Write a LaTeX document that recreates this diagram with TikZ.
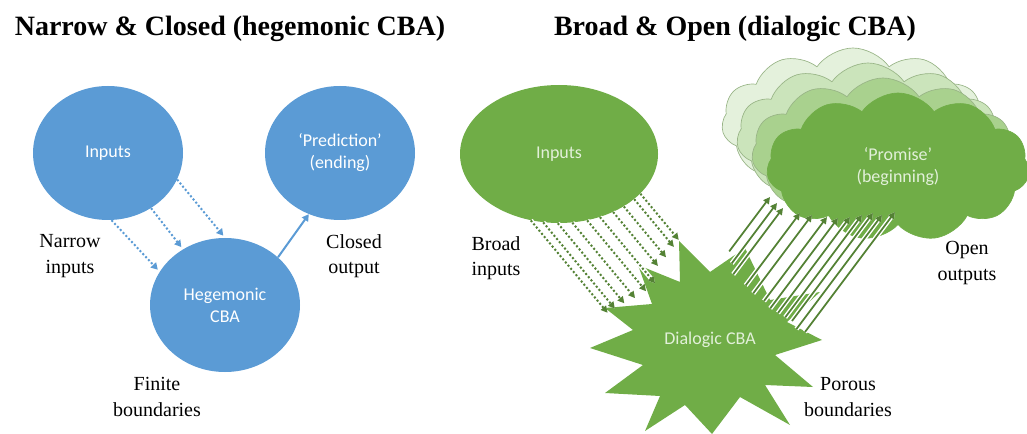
\documentclass[tikz,border=0pt]{standalone}
\usepackage{fontspec}
\setmainfont{Liberation Serif}
\newfontfamily\carlito{Carlito}
\usetikzlibrary{shapes.geometric,shapes.symbols,arrows.meta,calc}

\definecolor{hegblue}{HTML}{5B9BD5}
\definecolor{diagreen}{HTML}{70AD47}
\definecolor{arrgreen}{HTML}{548235}
\definecolor{palegreen}{HTML}{E2F0D9}
\definecolor{cloudA}{HTML}{E4F1DC}
\definecolor{cloudB}{HTML}{CBE4BB}
\definecolor{cloudC}{HTML}{A9D18E}

\tikzset{
	heading/.style = { font = \fontsize{21}{25}\selectfont\bfseries },
	remark/.style = { align = center, font = \fontsize{15}{19}\selectfont },
	bluebody/.style = { ellipse, fill = hegblue, text = white, align = center, inner sep = 0pt,
		font = \carlito\fontsize{13.5}{16.5}\selectfont, minimum width = 112.5pt, minimum height = 100.5pt },
	greenbody/.style = { bluebody, fill = diagreen, text = palegreen, minimum width = 148.5pt, minimum height = 103.5pt },
	puff/.style = { cloud, cloud puffs = 11, cloud puff arc = 110, cloud ignores aspect,
		minimum width = 197pt, minimum height = 111pt, draw = arrgreen!60, line width = 0.5pt },
	narrowin/.style = { hegblue, line width = 1.5pt, dash pattern = on 1.5pt off 1.6pt, shorten > = 2pt,
		-{Triangle[length=5pt,width=5.5pt]} },
	narrowout/.style = { hegblue, line width = 1.5pt, -{Triangle[length=5pt,width=5.5pt]} },
	broadin/.style = { arrgreen, line width = 1.5pt, dash pattern = on 1.5pt off 1.6pt,
		preaction = { draw = white, solid, line width = 3.5pt },
		-{Triangle[length=5pt,width=5pt]} },
	openout/.style = { arrgreen, line width = 1.3pt,
		preaction = { draw = white, line width = 3.5pt },
		-{Triangle[length=5pt,width=5pt]} }
}

\begin{document}
\begin{tikzpicture}[ x = 0.75pt, y = -0.75pt ]
	\useasboundingbox ( 0, 0 ) rectangle ( 1027, 434 );

	% заголовки
	\node [ heading ] (ttlL) at ( 230, 29 ) {Narrow \& Closed (hegemonic CBA)};
	\node [ heading ] (ttlR) at ( 735, 29 ) {Broad \& Open (dialogic CBA)};

	% узкий и закрытый
	\node [ bluebody ] (inL) at ( 108, 153 ) {Inputs};
	\node [ bluebody ] (pred) at ( 340, 153 ) {‘Prediction’\\(ending)};
	\node [ bluebody ] (heg) at ( 225, 305 ) {Hegemonic\\CBA};
	\draw [ narrowin ] ( inL.-87 ) -- ( heg.153 );
	\draw [ narrowin ] ( inL.-52 ) -- ( heg.127 );
	\draw [ narrowin ] ( inL.-21 ) -- ( heg.90 );
	\draw [ narrowout ] ( heg.42 ) -- ( pred.-117 );
	\node [ remark ] (narrow) at ( 70, 256 ) {Narrow\\inputs};
	\node [ remark ] (closed) at ( 354, 256 ) {Closed\\output};
	\node [ remark ] (finite) at ( 157, 397 ) {Finite\\boundaries};

	% широкий и открытый: облака
	\node [ puff, fill = cloudA ] (prm3) at ( 853, 122 ) {};
	\node [ puff, fill = cloudB ] (prm2) at ( 868, 137 ) {};
	\node [ puff, fill = cloudC ] (prm1) at ( 883, 152 ) {};
	\node [ puff, fill = diagreen, draw = diagreen, text = palegreen, align = center,
		font = \carlito\fontsize{13.5}{16.5}\selectfont ] (prm) at ( 898, 167 ) {‘Promise’\\(beginning)};

	% звезда
	\fill [ diagreen ] ( 590, 348 ) -- ( 633, 330 ) -- ( 605, 308 ) -- ( 652, 304 ) -- ( 638, 265 )
		-- ( 680, 282 ) -- ( 679, 241 ) -- ( 710, 272 ) -- ( 745, 248 ) -- ( 770, 300 )
		-- ( 820, 292 ) -- ( 787, 322 ) -- ( 822, 340 ) -- ( 775, 355 ) -- ( 813, 387 )
		-- ( 765, 385 ) -- ( 790, 425 ) -- ( 740, 397 ) -- ( 712, 434 ) -- ( 685, 405 )
		-- ( 645, 431 ) -- ( 660, 396 ) -- ( 605, 393 ) -- ( 643, 365 ) -- cycle;
	\node [ text = palegreen, font = \carlito\fontsize{13.5}{16.5}\selectfont ] (dia) at ( 710, 340 ) {Dialogic CBA};

	\node [ greenbody ] (inR) at ( 559, 154 ) {Inputs};

	% входы
	\foreach \a/\l [count=\i] in { -113/120, -103/112, -91/104, -79/98, -67/92, -57/86, -47/70, -39/66, -31/62, -26/60 } {
		\coordinate (bin\i) at ( $ ( inR.\a ) + ( 0.64*\l, 0.77*\l ) $ );
		\draw [ broadin ] ( inR.\a ) -- ( bin\i );
	}

	% выходы
	\foreach \tx/\ty/\l [count=\i] in { 770/197/68, 777/203/75.5, 783/208/83, 800/213/90.5, 812/215/98, 827/217/105,
		838/218/113, 850/217/120, 862/215/128, 873/213/135, 882/215/142.5, 895/212/150 } {
		\coordinate (out\i) at ( \tx, \ty );
		\coordinate (src\i) at ( $ ( out\i ) + ( -0.6*\l, 0.8*\l ) $ );
		\draw [ openout ] ( src\i ) -- ( out\i );
	}

	\node [ remark ] (broad) at ( 496, 258 ) {Broad\\inputs};
	\node [ remark ] (open) at ( 967, 263 ) {Open\\outputs};
	\node [ remark ] (porous) at ( 848, 397 ) {Porous\\boundaries};
\end{tikzpicture}
\end{document}
